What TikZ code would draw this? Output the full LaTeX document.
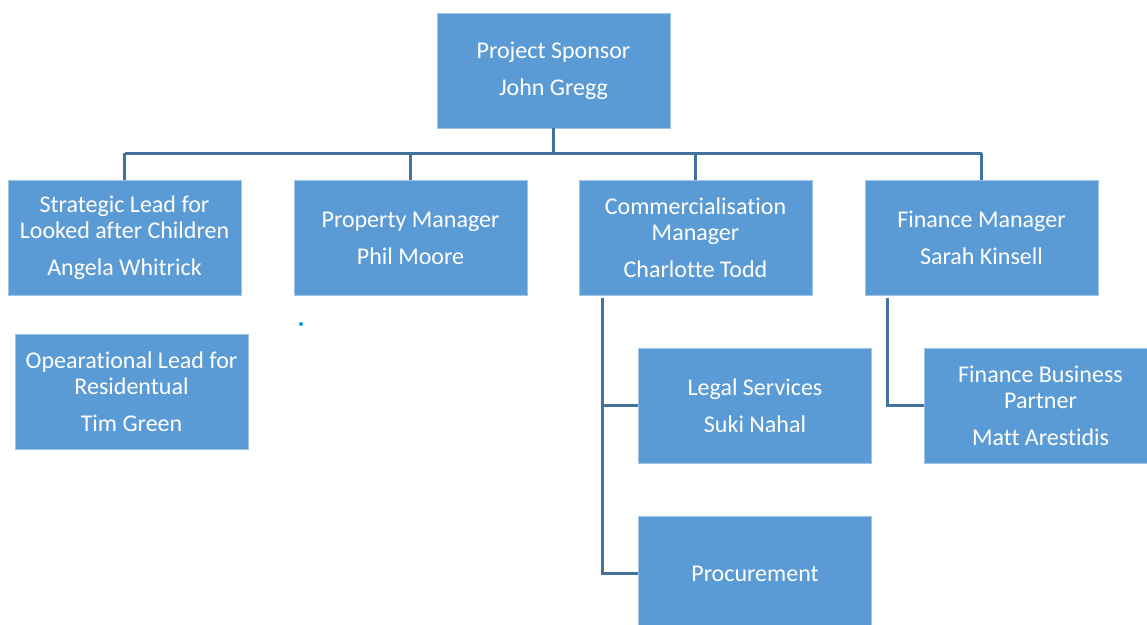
\documentclass[tikz,border=0pt]{standalone}
\usepackage{fontspec}
\setmainfont{Carlito}[Ligatures={NoCommon}]
\definecolor{boxblue}{RGB}{91,155,213}
\definecolor{boxedge}{RGB}{160,196,230}
\definecolor{linkblue}{RGB}{65,113,156}
\definecolor{dotblue}{RGB}{0,160,220}
\begin{document}
\begin{tikzpicture}[x=1pt,y=-1pt,
  orgbox/.style={rectangle,fill=boxblue,draw=boxedge,line width=0.8pt,
    minimum width=233pt,minimum height=115pt,inner sep=0pt,
    text=white,align=center,font=\fontsize{24}{26}\selectfont},
  link/.style={draw=linkblue,line width=3pt}]
\useasboundingbox (0,0) rectangle (1147,624);
\clip (0,0) rectangle (1147,624);
\fill[white] (0,0) rectangle (1147,624);

\node[orgbox] (sp) at (553.5,70.5) {Project Sponsor\\[11pt]John Gregg};
\node[orgbox] (a) at (124.5,238) {Strategic Lead for\\Looked after Children\\[11pt]Angela Whitrick};
\node[orgbox] (b) at (410.5,238) {Property Manager\\[11pt]Phil Moore};
\node[orgbox] (c) at (695.5,238) {Commercialisation\\Manager\\[11pt]Charlotte Todd};
\node[orgbox] (d) at (981.5,238) {Finance Manager\\[11pt]Sarah Kinsell};
\node[orgbox] (t) at (131.5,392) {Opearational Lead for\\Residentual\\[11pt]Tim Green};
\node[orgbox] (legal) at (755,405.5) {Legal Services\\[11pt]Suki Nahal};
\node[orgbox] (proc) at (755,573.5) {Procurement};
\node[orgbox] (fbp) at (1040.5,405.5) {Finance Business\\Partner\\[11pt]Matt Arestidis};

\fill[dotblue] (301,324) circle (2pt);

\coordinate (busL) at (124.5,153);
\coordinate (busR) at (981.5,153);
\coordinate (cv) at (602,298);
\coordinate (fv) at (887,298);

\draw[link] (busL) -- (busR);
\draw[link] (sp.south) -- (sp.south |- busL);
\draw[link] (a.north) -- (a.north |- busL);
\draw[link] (b.north) -- (b.north |- busL);
\draw[link] (c.north) -- (c.north |- busL);
\draw[link] (d.north) -- (d.north |- busL);
\draw[link] (cv) |- (proc.west);
\draw[link] (cv |- legal.west) -- (legal.west);
\draw[link] (fv) |- (fbp.west);
\end{tikzpicture}
\end{document}
